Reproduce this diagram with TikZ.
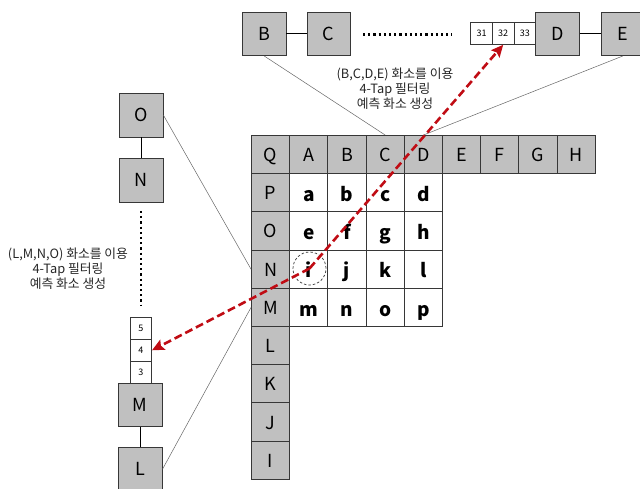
\documentclass[tikz,border=0pt]{standalone}
\usepackage{fontspec}
\setmainfont{Noto Sans CJK KR}
\usetikzlibrary{arrows.meta}
\definecolor{cellgray}{RGB}{192,192,192}
\definecolor{edgegray}{RGB}{55,55,55}
\definecolor{predred}{RGB}{192,12,20}

\begin{document}
\begin{tikzpicture}[x=1pt,y=-1pt,
  cell/.style={draw=edgegray, line width=0.9pt, minimum width=38.2pt,
    minimum height=38.2pt, inner sep=0pt},
  gcell/.style={cell, fill=cellgray, font=\fontsize{18}{18}\selectfont,
    text height=14pt, text depth=0pt},
  wcell/.style={cell, fill=white, font=\fontsize{19}{19}\selectfont\bfseries,
    text height=17.4pt, text depth=0pt},
  pix/.style={draw=edgegray, fill=cellgray, line width=0.9pt,
    minimum width=43.5pt, minimum height=43.5pt, inner sep=0pt,
    font=\fontsize{18}{18}\selectfont, text height=13.2pt, text depth=0pt},
  subpix/.style={draw=edgegray, fill=white, line width=0.7pt,
    minimum width=21.7pt, minimum height=21.7pt, inner sep=0pt,
    font=\fontsize{9}{9}\selectfont, text height=6.6pt, text depth=0pt},
  zoomline/.style={draw=black!60, line width=0.5pt},
  link/.style={draw=black, line width=0.9pt},
  dots/.style={draw=black, line width=2.2pt, dash pattern=on 2.2pt off 3pt},
  pred/.style={draw=predred, line width=2.6pt, dash pattern=on 8pt off 4pt,
    -{Stealth[length=12pt,width=11pt,inset=2pt]}},
  note/.style={align=center, font=\fontsize{12.8}{15}\selectfont, text=black!85}
]
\useasboundingbox (0,0) rectangle (640,489);

\pgfmathsetmacro\gridx{251.5}
\pgfmathsetmacro\gridy{135.5}
\pgfmathsetmacro\cs{38.2}

% top reference row
\foreach \lab [count=\i from 0] in {Q,A,B,C,D,E,F,G,H}
  \node[gcell] (t\i) at ({\gridx+\cs/2+\i*\cs},{\gridy+\cs/2}) {\lab};
% left reference column
\foreach \lab [count=\j] in {P,O,N,M,L,K,J,I}
  \node[gcell] (l\j) at ({\gridx+\cs/2},{\gridy+\cs/2+\j*\cs}) {\lab};
% 4x4 block
\foreach \lab [count=\k from 0] in {a,b,c,d,e,f,g,h,i,j,k,l,m,n,o,p} {
  \pgfmathtruncatemacro\rr{div(\k,4)+1}
  \pgfmathtruncatemacro\cc{mod(\k,4)+1}
  \node[wcell] (c-\rr-\cc) at ({\gridx+\cs/2+\cc*\cs},{\gridy+\cs/2+\rr*\cs}) {\lab};
}

% horizontal pixel line
\node[pix] (pB) at (264.2,33.8) {B};
\node[pix] (pC) at (328.7,33.8) {C};
\node[pix] (pD) at (557.5,33.8) {D};
\node[pix] (pE) at (622.8,33.8) {E};
\node[subpix] (s33) at (524.9,33.6) {33};
\node[subpix] (s32) at (503.2,33.6) {32};
\node[subpix] (s31) at (481.5,33.6) {31};
\draw[link] (pB) -- (pC);
\draw[link] (pD) -- (pE);
\coordinate (hdotA) at (363,34.5);
\coordinate (hdotB) at (452,34.5);
\draw[dots] (hdotA) -- (hdotB);

% vertical pixel line
\node[pix] (pO) at (141.3,115.3) {O};
\node[pix] (pN) at (141.3,180.3) {N};
\node[pix] (pM) at (140.3,404.7) {M};
\node[pix] (pL) at (140.3,469.2) {L};
\node[subpix] (s5) at (140.8,328.3) {5};
\node[subpix] (s4) at (140.8,350.3) {4};
\node[subpix] (s3) at (140.8,372.0) {3};
\draw[link] (pO) -- (pN);
\draw[link] (pM) -- (pL);
\coordinate (vdotA) at (141,211);
\coordinate (vdotB) at (141,306);
\draw[dots] (vdotA) -- (vdotB);

% zoom guide lines
\draw[zoomline] (pB.south) -- (t3.north);
\draw[zoomline] (pE.south) -- (t4.north);
\draw[zoomline] (pO.east) -- (l3.west);
\draw[zoomline] (pL.east) -- (l4.west);

% notes
\node[note] (noteH) at (395,88.5) {(B,C,D,E) 화소를 이용\\4-Tap 필터링\\예측 화소 생성};
\node[note] (noteV) at (68,269) {(L,M,N,O) 화소를 이용\\4-Tap 필터링\\예측 화소 생성};

% target pixel and prediction arrows
\node[circle, draw=edgegray, line width=0.7pt, dash pattern=on 2.5pt off 2pt,
  minimum size=33pt, inner sep=0pt] (ring) at (309.5,268.5) {};
\draw[pred] (ring.center) -- (s32.south);
\draw[pred] (ring.center) -- (s4.east);
\end{tikzpicture}
\end{document}
